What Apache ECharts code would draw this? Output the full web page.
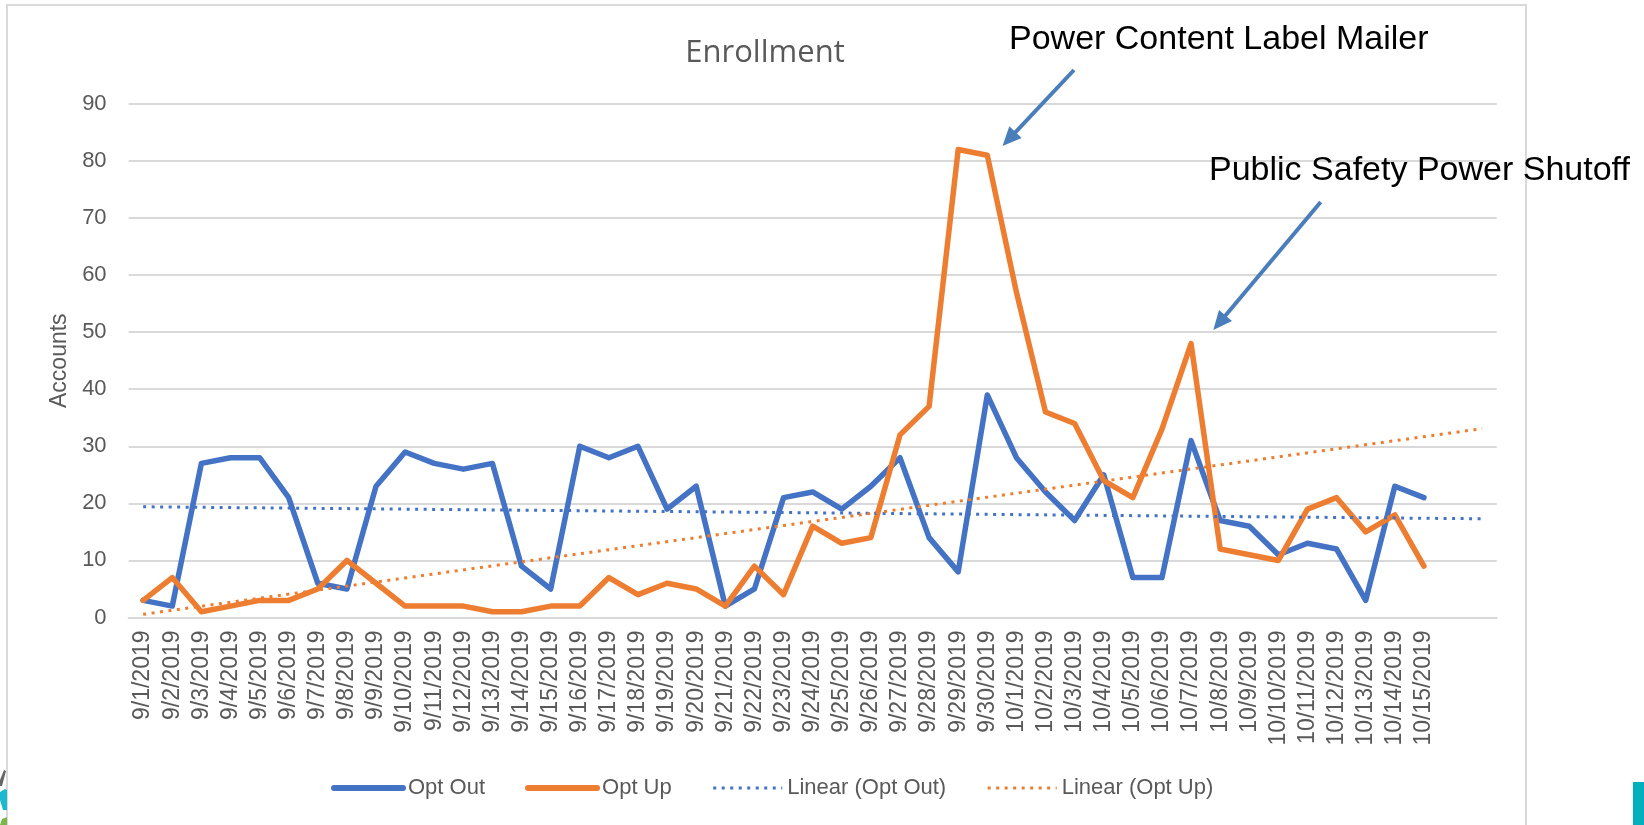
<!DOCTYPE html>
<html>
<head>
<meta charset="utf-8">
<script src="https://cdn.jsdelivr.net/npm/echarts@6/dist/echarts.min.js"></script>
<style>
  html, body { margin: 0; padding: 0; background: #ffffff; }
  #chart { width: 1644px; height: 825px; }
</style>
</head>
<body>
<div id="chart"></div>
<script>
// ---- data ----
const categories = [
  '9/1/2019','9/2/2019','9/3/2019','9/4/2019','9/5/2019','9/6/2019','9/7/2019','9/8/2019','9/9/2019','9/10/2019',
  '9/11/2019','9/12/2019','9/13/2019','9/14/2019','9/15/2019','9/16/2019','9/17/2019','9/18/2019','9/19/2019','9/20/2019',
  '9/21/2019','9/22/2019','9/23/2019','9/24/2019','9/25/2019','9/26/2019','9/27/2019','9/28/2019','9/29/2019','9/30/2019',
  '10/1/2019','10/2/2019','10/3/2019','10/4/2019','10/5/2019','10/6/2019','10/7/2019','10/8/2019','10/9/2019','10/10/2019',
  '10/11/2019','10/12/2019','10/13/2019','10/14/2019','10/15/2019','',''
];
const optOut = [3,2,27,28,28,21,6,5,23,29, 27,26,27,9,5,30,28,30,19,23, 2,5,21,22,19,23,28,14,8,39, 28,22,17,25,7,7,31,17,16,11, 13,12,3,23,21];
const optUp  = [3,7,1,2,3,3,5,10,6,2, 2,2,1,1,2,2,7,4,6,5, 2,9,4,16,13,14,32,37,82,81, 57,36,34,24,21,33,48,12,11,10, 19,21,15,18,9];
// trend line endpoints: [categoryIndex, value]
const trendOptOut = [[0, 19.4], [46, 17.3]];
const trendOptUp  = [[0, 0.56], [46, 33.1]];
const yTicks = { min: 0, max: 90, interval: 10 };
const seriesNames = ['Opt Out', 'Opt Up', 'Linear (Opt Out)', 'Linear (Opt Up)'];
const chartTitle = 'Enrollment';
const yAxisName = 'Accounts';
const note1 = 'Power Content Label Mailer';
const note2 = 'Public Safety Power Shutoff';

// ---- helpers ----
const BLUE = '#4472C4', ORANGE = '#ED7D31', GRAY = '#595959', GRID = '#d9d9d9';
const ARROW = '#4a7ebb';
const FONT = 'Liberation Sans';
const DOTS = [3, 5.5];

function arrow(x1, y1, x2, y2) {
  const dx = x2 - x1, dy = y2 - y1;
  const len = Math.sqrt(dx * dx + dy * dy);
  const ux = dx / len, uy = dy / len;
  const hl = 19, hw = 8.5;
  const bx = x2 - ux * hl, by = y2 - uy * hl;
  const px = -uy * hw, py = ux * hw;
  return [
    { type: 'line', silent: true, z: 20,
      shape: { x1: x1, y1: y1, x2: bx + ux * 2, y2: by + uy * 2 },
      style: { stroke: ARROW, lineWidth: 4 } },
    { type: 'polygon', silent: true, z: 20,
      shape: { points: [[x2, y2], [bx + px, by + py], [bx - px, by - py]] },
      style: { fill: ARROW } }
  ];
}

const chart = echarts.init(document.getElementById('chart'), null, { renderer: 'canvas' });

const hiddenSymbol = { opacity: 0 };

const option = {
  backgroundColor: '#ffffff',
  animation: false,
  textStyle: { fontFamily: FONT },
  grid: { left: 128.6, right: 147.3, top: 103.9, bottom: 207.5, containLabel: false },
  legend: {
    data: [
      { name: seriesNames[0], itemStyle: hiddenSymbol, lineStyle: { width: 6, cap: 'round' } },
      { name: seriesNames[1], itemStyle: hiddenSymbol, lineStyle: { width: 6, cap: 'round' } },
      { name: seriesNames[2], itemStyle: hiddenSymbol, lineStyle: { width: 3, type: DOTS } },
      { name: seriesNames[3], itemStyle: hiddenSymbol, lineStyle: { width: 3, type: DOTS } }
    ],
    left: 331,
    top: 777,
    padding: 0,
    itemWidth: 69,
    itemHeight: 14,
    itemGap: 40,
    textStyle: { color: GRAY, fontSize: 22, fontFamily: FONT }
  },
  xAxis: {
    type: 'category',
    data: categories,
    boundaryGap: true,
    axisTick: { show: false },
    axisLine: { show: true, lineStyle: { color: GRID, width: 2 } },
    axisLabel: { interval: 0, rotate: 90, margin: 13, color: GRAY, fontSize: 23, fontFamily: FONT },
    splitLine: { show: false }
  },
  yAxis: {
    type: 'value',
    min: yTicks.min, max: yTicks.max, interval: yTicks.interval,
    name: yAxisName,
    nameLocation: 'middle',
    nameRotate: 90,
    nameGap: 54,
    nameTextStyle: { color: GRAY, fontSize: 23, fontFamily: FONT },
    axisLine: { show: false },
    axisTick: { show: false },
    axisLabel: { color: GRAY, fontSize: 22, margin: 22, fontFamily: FONT },
    splitLine: { show: true, lineStyle: { color: GRID, width: 2 } }
  },
  series: [
    { name: seriesNames[0], type: 'line', data: optOut, symbol: 'none', z: 3,
      lineStyle: { color: BLUE, width: 5.5, join: 'round', cap: 'round' }, itemStyle: { color: BLUE } },
    { name: seriesNames[1], type: 'line', data: optUp, symbol: 'none', z: 4,
      lineStyle: { color: ORANGE, width: 5.5, join: 'round', cap: 'round' }, itemStyle: { color: ORANGE } },
    { name: seriesNames[2], type: 'line', data: trendOptOut, symbol: 'none', z: 5,
      lineStyle: { color: BLUE, width: 3, type: DOTS }, itemStyle: { color: BLUE } },
    { name: seriesNames[3], type: 'line', data: trendOptUp, symbol: 'none', z: 6,
      lineStyle: { color: ORANGE, width: 3, type: DOTS }, itemStyle: { color: ORANGE } }
  ],
  graphic: [
    { type: 'rect', silent: true, z: -10,
      shape: { x: 7, y: 5, width: 1519, height: 840 },
      style: { fill: 'none', stroke: GRID, lineWidth: 2 } },
    { type: 'text', silent: true, z: 20,
      style: { x: 765, y: 53, text: chartTitle, fill: GRAY, fontSize: 31, fontFamily: 'Open Sans',
               textAlign: 'center', textVerticalAlign: 'middle' } },
    { type: 'text', silent: true, z: 20,
      style: { x: 1009, y: 39.5, text: note1, fill: '#000000', fontSize: 34, fontFamily: FONT,
               textAlign: 'left', textVerticalAlign: 'middle' } },
    { type: 'text', silent: true, z: 20,
      style: { x: 1209, y: 170.5, text: note2, fill: '#000000', fontSize: 34, fontFamily: FONT,
               textAlign: 'left', textVerticalAlign: 'middle' } },
    ...arrow(1074, 70, 1002.5, 146),
    ...arrow(1320.7, 202, 1213.3, 330),
    { type: 'rect', silent: true, z: 20,
      shape: { x: 1633, y: 782, width: 11, height: 43 }, style: { fill: '#00b0bd' } },
    { type: 'polygon', silent: true, z: 20,
      shape: { points: [[0, 780], [4, 770], [6, 771], [2, 786], [0, 786]] }, style: { fill: '#666666' } },
    { type: 'polygon', silent: true, z: 20,
      shape: { points: [[0, 792], [5, 789], [7, 790], [7, 810], [3, 810], [0, 800]] }, style: { fill: '#1cb8d0' } },
    { type: 'polygon', silent: true, z: 20,
      shape: { points: [[0, 825], [2, 819], [7, 817], [7, 825]] }, style: { fill: '#7ab648' } }
  ]
};

chart.setOption(option);
</script>
</body>
</html>
